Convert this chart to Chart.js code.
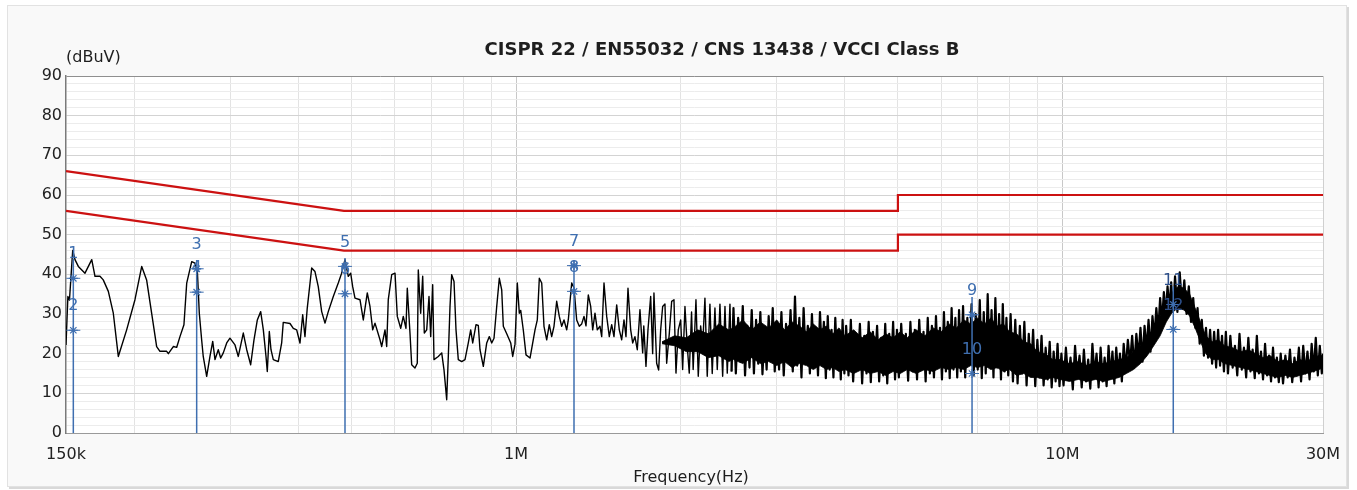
<!DOCTYPE html>
<html><head><meta charset="utf-8">
<script src="https://cdn.jsdelivr.net/npm/chart.js@4.4.1/dist/chart.umd.min.js"></script>
<style>html,body{margin:0;padding:0;background:#fff;}canvas{display:block;}</style>
</head><body>
<canvas id="c" width="1357" height="490"></canvas>
<script>
// ---------- texts ----------
const chartTitle = 'CISPR 22 / EN55032 / CNS 13438 / VCCI Class B';
const yUnitLabel = '(dBuV)';
const xAxisLabel = 'Frequency(Hz)';

// ---------- axes ----------
const xTickValues = [0.15, 1, 10, 30];          // MHz
const xTickLabels = ['150k', '1M', '10M', '30M'];
const xGridMHz = [0.15,0.2,0.3,0.4,0.5,0.6,0.7,0.8,0.9,1,2,3,4,5,6,7,8,9,10,20,30];
const yMin = 0, yMax = 90, yStep = 2, yLabelEvery = 10;

// ---------- limit lines (MHz, dBuV) ----------
const limitFreqMHz = [0.15, 0.484, 5.0, 5.0, 30];
const qpLimitDb    = [66, 56, 56, 60, 60];
const avLimitDb    = [56, 46, 46, 50, 50];

// ---------- markers ----------
const markerFreqMHz = [0.1547, 0.2602, 0.4862, 1.2765, 6.834, 15.96];
const markerQpDb    = [39.0, 41.4, 42.0, 42.2, 29.8, 32.4];   // labels 1,3,5,7,9,11
const markerAvDb    = [25.9, 35.5, 35.1, 35.7, 15.0, 26.1];   // labels 2,4,6,8,10,12
const markerTopDb   = [44.0, 43.6, 44.1, 43.6, 34.3, 37.0];

// ---------- solid core of the dense sweep (where the trace lines merge) ----------
const bandCoreFreqMHz  = [1.85, 1.95, 2.05, 2.15, 2.25, 2.35, 2.45, 2.5, 2.6, 2.7, 2.8, 2.9, 3.0, 3.1, 3.2, 3.3, 3.4, 3.5, 3.6, 3.7, 3.8, 3.9, 4.0, 4.15, 4.3, 4.45, 4.6, 4.75, 4.9, 5.05, 5.2, 5.4, 5.6, 5.8, 6.0, 6.2, 6.4, 6.6, 6.8, 7.0, 7.2, 7.4, 7.6, 7.8, 8.0, 8.25, 8.5, 8.75, 9.0, 9.3, 9.6, 9.9, 10.3, 10.7, 11.1, 11.5, 11.9, 12.3, 12.7, 13.1, 13.5, 13.9, 14.3, 14.7, 15.1, 15.5, 15.9, 16.3, 16.7, 17.1, 17.5, 17.9, 18.3, 18.8, 19.3, 19.8, 20.5, 21.2, 21.9, 22.6, 23.3, 24.0, 24.8, 25.6, 26.4, 27.2, 28.0, 28.8, 29.5, 30.0];
const bandCoreTopDb    = [23.0, 24.5, 24.0, 26.0, 25.0, 27.5, 26.0, 26.5, 28.5, 26.0, 28.0, 26.5, 28.5, 26.0, 28.0, 27.0, 25.5, 27.5, 26.0, 27.0, 25.0, 26.5, 24.5, 26.0, 24.0, 25.5, 23.5, 25.0, 24.0, 25.5, 24.0, 26.0, 24.5, 26.5, 25.5, 27.5, 26.5, 28.5, 27.5, 29.0, 27.5, 29.0, 27.0, 27.5, 25.5, 25.0, 23.0, 22.5, 20.5, 20.0, 18.5, 18.5, 17.5, 18.0, 17.0, 18.0, 17.5, 18.0, 18.5, 19.0, 20.5, 22.0, 24.0, 26.5, 29.5, 33.0, 35.5, 37.0, 36.5, 35.0, 31.5, 28.0, 24.5, 23.0, 23.5, 22.0, 21.5, 20.5, 21.0, 20.0, 19.0, 19.5, 18.0, 18.5, 17.5, 18.5, 18.0, 19.0, 19.5, 19.5];
const bandCoreBottomDb = [22.5, 22.0, 20.5, 20.5, 19.0, 19.5, 18.0, 18.5, 17.5, 19.0, 17.5, 18.0, 17.0, 18.0, 16.5, 17.5, 17.0, 16.0, 17.0, 16.0, 16.5, 15.5, 16.0, 15.0, 16.0, 15.0, 15.5, 14.5, 15.5, 15.0, 16.0, 15.0, 16.0, 15.5, 16.5, 16.0, 16.5, 16.0, 17.0, 16.5, 17.0, 16.0, 16.5, 15.5, 16.0, 14.5, 15.0, 14.0, 14.0, 13.5, 14.0, 13.5, 13.0, 13.5, 13.0, 13.5, 13.0, 13.5, 14.0, 15.0, 16.0, 17.5, 19.5, 22.0, 24.5, 28.0, 30.5, 31.5, 31.0, 29.5, 26.5, 23.0, 20.0, 18.5, 18.5, 17.5, 17.0, 16.5, 16.0, 15.5, 15.0, 14.5, 14.0, 14.5, 14.0, 14.5, 15.0, 15.5, 16.0, 16.5];

// ---------- measured trace [MHz, dBuV] ----------
const trace150kTo300k = [[0.1500,22.2],[0.1512,34.4],[0.1522,33.5],[0.1543,46.0],[0.1558,43.7],[0.1580,42.0],[0.1625,40.3],[0.1672,43.7],[0.1695,39.5],[0.1731,39.5],[0.1755,38.6],[0.1793,35.7],[0.1831,30.2],[0.1870,19.3],[0.1937,26.0],[0.2006,33.6],[0.2064,42.0],[0.2107,38.6],[0.2152,30.2],[0.2198,21.8],[0.2229,20.6],[0.2293,20.6],[0.2309,20.0],[0.2358,21.8],[0.2392,21.6],[0.2425,24.3],[0.2466,27.3],[0.2495,37.8],[0.2548,43.2],[0.2583,42.8],[0.2609,41.1],[0.2631,30.2],[0.2657,23.5],[0.2675,19.3],[0.2714,14.3],[0.2752,19.3],[0.2784,23.1],[0.2811,18.5],[0.2850,21.0],[0.2879,18.9],[0.2911,20.2],[0.2953,22.7],[0.2994,23.9]];
const trace300kTo600k = [[0.3058,22.2],[0.3101,19.3],[0.3167,25.2],[0.3213,21.0],[0.3267,17.2],[0.3313,23.5],[0.3360,28.5],[0.3408,30.6],[0.3446,26.0],[0.3485,19.3],[0.3504,15.5],[0.3534,25.6],[0.3559,21.0],[0.3594,18.5],[0.3670,18.0],[0.3723,22.7],[0.3748,27.9],[0.3856,27.6],[0.3910,26.4],[0.3966,26.0],[0.4022,22.7],[0.4068,29.8],[0.4107,24.3],[0.4147,31.5],[0.4225,41.6],[0.4284,40.7],[0.4344,36.9],[0.4407,30.6],[0.4469,27.7],[0.4531,30.6],[0.4628,34.4],[0.4726,37.8],[0.4794,40.3],[0.4862,43.7],[0.4930,39.5],[0.4980,40.3],[0.5022,36.9],[0.5071,34.0],[0.5179,33.6],[0.5252,28.5],[0.5341,35.3],[0.5402,31.9],[0.5464,26.0],[0.5517,27.7],[0.5635,23.5],[0.5675,21.8],[0.5755,26.0],[0.5796,21.8],[0.5835,33.6],[0.5920,39.9],[0.6003,40.3]];
const trace600kTo1M = [[0.6061,29.4],[0.6149,26.4],[0.6216,29.4],[0.6287,26.4],[0.6322,36.5],[0.6394,25.2],[0.6440,17.2],[0.6530,16.4],[0.6594,17.6],[0.6622,41.1],[0.6689,30.2],[0.6746,39.5],[0.6792,25.2],[0.6861,26.0],[0.6928,34.4],[0.6977,24.3],[0.7036,37.4],[0.7075,18.5],[0.7204,19.3],[0.7309,20.2],[0.7380,15.9],[0.7464,8.4],[0.7515,19.3],[0.7569,31.9],[0.7623,39.9],[0.7698,38.2],[0.7763,26.0],[0.7838,18.5],[0.7952,18.0],[0.8063,18.5],[0.8176,22.7],[0.8259,26.0],[0.8329,22.7],[0.8446,27.3],[0.8528,27.1],[0.8589,21.0],[0.8710,16.8],[0.8836,22.7],[0.8933,24.3],[0.9024,22.7],[0.9112,23.9],[0.9216,31.9],[0.9318,39.0],[0.9412,36.1],[0.9476,26.9],[0.9613,25.0],[0.9777,22.7],[0.9859,19.3],[0.9955,22.4]];
const trace1MTo2p5M = [[1.0052,37.8],[1.0137,30.2],[1.0197,30.9],[1.0310,25.9],[1.0428,19.7],[1.0605,18.9],[1.0831,26.0],[1.0936,28.5],[1.1029,39.0],[1.1141,37.8],[1.1248,26.9],[1.1377,23.5],[1.1502,27.3],[1.1619,24.3],[1.1733,26.9],[1.1867,33.2],[1.1998,29.4],[1.2120,26.9],[1.2238,28.5],[1.2378,26.0],[1.2462,28.5],[1.2642,37.8],[1.2765,36.6],[1.2911,28.5],[1.3053,26.9],[1.3186,27.5],[1.3315,29.4],[1.3427,27.0],[1.3558,34.8],[1.3696,31.9],[1.3812,26.0],[1.3946,30.2],[1.4082,26.0],[1.4243,26.9],[1.4346,24.3],[1.4486,37.8],[1.4651,29.4],[1.4813,24.3],[1.4963,27.3],[1.5108,24.3],[1.5282,32.3],[1.5450,26.0],[1.5607,23.5],[1.5759,28.5],[1.5892,24.3],[1.6027,36.5],[1.6210,26.0],[1.6347,22.7],[1.6503,24.3],[1.6667,21.0],[1.6857,31.1],[1.7050,20.2],[1.7130,27.0],[1.7289,16.8],[1.7436,26.0],[1.7635,34.4],[1.7783,20.0],[1.7881,35.3],[1.8085,17.6],[1.8239,15.9],[1.8394,26.0],[1.8549,31.9],[1.8730,32.5],[1.8865,17.6],[1.9073,25.0],[1.9267,33.2],[1.9455,33.6],[1.9620,15.1],[1.9812,26.0],[2.0013,28.5],[2.0180,16.0],[2.0377,31.9],[2.0572,22.0],[2.0749,15.1],[2.0952,30.5],[2.1094,16.0],[2.1344,33.6],[2.1552,14.3],[2.1770,27.0],[2.1955,22.0],[2.2167,34.0],[2.2384,14.3],[2.2639,32.5],[2.2859,15.0],[2.3122,31.5],[2.3349,16.0],[2.3615,32.5],[2.3886,14.3],[2.4120,31.9],[2.4355,15.1],[2.4632,32.5],[2.4800,15.5]];
const trace2p5MTo3M = [[2.500,31.5],[2.525,15.0],[2.550,29.0],[2.575,18.0],[2.600,32.0],[2.625,14.5],[2.650,27.0],[2.675,16.5],[2.700,31.0],[2.725,15.0],[2.750,28.5],[2.775,17.5],[2.800,30.5],[2.825,14.8],[2.850,26.0],[2.875,16.0],[2.900,29.5],[2.925,18.5],[2.950,31.5],[2.975,15.5],[3.000,28.0]];
const trace3MTo4M = [[3.03,16.0],[3.06,30.5],[3.09,14.5],[3.12,27.5],[3.15,19.0],[3.18,31.0],[3.21,15.5],[3.24,34.4],[3.27,17.0],[3.30,29.0],[3.33,14.0],[3.36,31.5],[3.39,18.5],[3.42,27.0],[3.45,15.0],[3.48,30.0],[3.51,16.5],[3.54,26.5],[3.57,14.5],[3.60,30.5],[3.63,19.5],[3.66,28.0],[3.69,13.8],[3.72,29.5],[3.75,16.0],[3.78,26.0],[3.81,14.0],[3.84,29.0],[3.87,17.5],[3.90,25.5],[3.93,13.5],[3.96,28.5],[3.99,15.0]];
const trace4MTo5M = [[4.02,27.0],[4.06,14.5],[4.10,28.5],[4.14,13.0],[4.18,25.0],[4.22,16.5],[4.26,27.5],[4.30,12.5],[4.34,24.5],[4.38,15.0],[4.42,28.0],[4.46,12.8],[4.50,25.5],[4.54,17.0],[4.58,27.0],[4.62,13.0],[4.66,24.0],[4.70,14.5],[4.74,27.5],[4.78,12.5],[4.82,25.0],[4.86,16.0],[4.90,28.0],[4.94,13.5],[4.98,26.0]];
const trace5MTo6p5M = [[5.02,14.0],[5.07,27.5],[5.12,16.0],[5.17,25.0],[5.22,13.2],[5.27,28.0],[5.32,15.5],[5.37,26.0],[5.42,13.5],[5.47,28.5],[5.52,17.0],[5.57,25.5],[5.62,13.0],[5.67,29.0],[5.72,15.0],[5.77,27.0],[5.82,14.0],[5.87,29.5],[5.92,16.5],[5.97,26.5],[6.02,13.5],[6.07,30.5],[6.12,15.5],[6.17,28.0],[6.22,13.8],[6.27,31.5],[6.32,16.0],[6.37,29.0],[6.42,14.0],[6.47,31.0]];
const trace6p5MTo8M = [[6.52,15.5],[6.58,32.0],[6.64,14.0],[6.70,29.0],[6.76,17.5],[6.82,32.5],[6.88,14.5],[6.94,30.0],[7.00,16.0],[7.06,33.5],[7.12,13.8],[7.18,30.5],[7.24,15.0],[7.30,35.0],[7.36,17.0],[7.42,31.0],[7.48,14.0],[7.54,34.0],[7.60,16.5],[7.66,30.0],[7.72,13.5],[7.78,32.5],[7.84,15.5],[7.90,29.0],[7.96,14.5]];
const trace8MTo10M = [[8.04,30.0],[8.12,13.0],[8.20,28.5],[8.28,12.5],[8.36,27.0],[8.44,15.0],[8.52,28.0],[8.60,12.0],[8.68,25.0],[8.76,14.5],[8.84,26.0],[8.92,11.8],[9.00,23.5],[9.08,14.0],[9.16,24.5],[9.24,12.0],[9.32,21.5],[9.40,13.5],[9.48,23.0],[9.56,11.5],[9.64,20.5],[9.72,13.0],[9.80,22.5],[9.88,11.8],[9.96,20.0]];
const trace10MTo13M = [[10.05,12.0],[10.15,21.5],[10.25,13.5],[10.35,19.0],[10.45,11.0],[10.55,22.0],[10.65,14.0],[10.75,19.5],[10.85,11.5],[10.95,21.0],[11.05,13.0],[11.15,18.5],[11.25,11.2],[11.35,22.5],[11.45,14.5],[11.55,20.0],[11.65,11.5],[11.75,21.5],[11.85,13.0],[11.95,19.0],[12.05,11.8],[12.15,22.0],[12.25,14.0],[12.35,20.5],[12.45,12.5],[12.55,21.5],[12.65,14.5],[12.75,20.0],[12.85,13.0],[12.95,22.5]];
const trace13MTo16M = [[13.06,16.0],[13.18,23.5],[13.30,17.5],[13.42,24.5],[13.54,16.5],[13.66,25.0],[13.78,19.0],[13.90,26.5],[14.02,18.0],[14.14,27.0],[14.26,21.0],[14.38,28.5],[14.50,20.5],[14.62,29.5],[14.74,24.0],[14.86,31.5],[14.98,25.5],[15.10,34.0],[15.22,28.0],[15.34,35.5],[15.46,29.5],[15.58,37.0],[15.70,31.0],[15.82,38.0],[15.94,30.5]];
const trace16MTo20M = [[16.08,39.5],[16.24,30.5],[16.40,40.5],[16.56,31.5],[16.72,38.5],[16.88,30.0],[17.04,37.0],[17.20,28.0],[17.36,34.0],[17.52,26.5],[17.68,31.5],[17.84,22.5],[18.00,28.5],[18.16,19.5],[18.32,26.5],[18.48,19.0],[18.64,26.0],[18.80,17.5],[18.96,25.5],[19.12,16.5],[19.28,26.0],[19.44,17.0],[19.60,24.5],[19.76,15.5],[19.92,25.5]];
const trace20MTo25M = [[20.1,15.0],[20.3,24.5],[20.5,16.5],[20.7,22.0],[20.9,14.5],[21.1,25.0],[21.3,16.0],[21.5,21.5],[21.7,14.0],[21.9,24.0],[22.1,15.5],[22.3,21.0],[22.5,13.8],[22.7,24.5],[22.9,15.0],[23.1,20.5],[23.3,13.5],[23.5,22.5],[23.7,14.5],[23.9,19.5],[24.1,13.0],[24.3,21.5],[24.5,14.0],[24.7,19.0],[24.9,12.8]];
const trace25MTo30M = [[25.10,20.0],[25.35,12.5],[25.60,19.5],[25.85,14.0],[26.10,21.0],[26.35,12.8],[26.60,19.0],[26.85,14.5],[27.10,21.5],[27.35,13.0],[27.60,22.0],[27.85,15.0],[28.10,20.5],[28.35,13.5],[28.60,22.5],[28.85,15.5],[29.10,24.0],[29.35,14.5],[29.60,22.0],[29.85,15.0],[30.00,20.0]];

// ---------- build ----------
const sparseTrace = [].concat(trace150kTo300k, trace300kTo600k, trace600kTo1M, trace1MTo2p5M);
const denseTrace = [].concat(trace2p5MTo3M, trace3MTo4M, trace4MTo5M, trace5MTo6p5M,
  trace6p5MTo8M, trace8MTo10M, trace10MTo13M, trace13MTo16M, trace16MTo20M,
  trace20MTo25M, trace25MTo30M);
const sparsePoints = sparseTrace.map(p => ({x: p[0], y: p[1]}));
const densePoints = [sparseTrace[sparseTrace.length - 1]].concat(denseTrace).map(p => ({x: p[0], y: p[1]}));
const coreTopPoints = bandCoreFreqMHz.map((f, i) => ({x: f, y: bandCoreTopDb[i]}));
const coreBottomPoints = bandCoreFreqMHz.map((f, i) => ({x: f, y: bandCoreBottomDb[i]}));
const qpPoints = limitFreqMHz.map((f, i) => ({x: f, y: qpLimitDb[i]}));
const avPoints = limitFreqMHz.map((f, i) => ({x: f, y: avLimitDb[i]}));
const markerLinePoints = [];
markerFreqMHz.forEach((f, i) => {
  markerLinePoints.push({x: f, y: 0}, {x: f, y: markerTopDb[i]}, {x: f, y: null});
});
const starPoints = markerFreqMHz.map((f, i) => ({x: f, y: markerQpDb[i]}))
  .concat(markerFreqMHz.map((f, i) => ({x: f, y: markerAvDb[i]})));

const MARK_BLUE = '#3f6fb0';
const FONT = 'DejaVu Sans';
Chart.defaults.font.family = FONT;

const framePlugin = {
  id: 'frame',
  beforeDraw(chart) {
    const {ctx, chartArea: a} = chart;
    ctx.save();
    ctx.fillStyle = '#ffffff';
    ctx.fillRect(0, 0, chart.width, chart.height);
    ctx.fillStyle = '#d9d9d9';
    ctx.fillRect(9, 7, 1340, 482);
    ctx.fillStyle = '#f9f9f9';
    ctx.fillRect(7, 5, 1340, 482);
    ctx.strokeStyle = '#e2e2e2';
    ctx.lineWidth = 1;
    ctx.strokeRect(7.5, 5.5, 1339, 481);
    ctx.fillStyle = '#ffffff';
    ctx.fillRect(a.left, a.top, a.right - a.left, a.bottom - a.top);
    ctx.restore();
  },
  afterDatasetsDraw(chart) {
    const {ctx} = chart;
    const xs = chart.scales.x, ys = chart.scales.y;
    ctx.save();
    ctx.font = '16px "' + FONT + '"';
    ctx.textAlign = 'center';
    ctx.textBaseline = 'middle';
    markerFreqMHz.forEach((f, i) => {
      const px = xs.getPixelForValue(f);
      ctx.fillStyle = i === 5 ? '#2d4f8a' : MARK_BLUE;
      ctx.fillText(String(2 * i + 1), px, ys.getPixelForValue(markerQpDb[i]) - 24);
      ctx.fillText(String(2 * i + 2), px, ys.getPixelForValue(markerAvDb[i]) - 24);
    });
    ctx.restore();
  },
  afterDraw(chart) {
    const {ctx, chartArea: a} = chart;
    ctx.save();
    ctx.fillStyle = '#1e1e1e';
    ctx.textBaseline = 'middle';
    ctx.textAlign = 'center';
    ctx.font = 'bold 18px "' + FONT + '"';
    ctx.fillText(chartTitle, 722, 50);
    ctx.font = '16px "' + FONT + '"';
    ctx.textAlign = 'left';
    ctx.fillText(yUnitLabel, a.left, 58);
    ctx.textAlign = 'center';
    ctx.fillText(xAxisLabel, 691, 478);
    ctx.restore();
  }
};

new Chart(document.getElementById('c'), {
  type: 'line',
  data: {
    datasets: [
      { label: 'markerLines', data: markerLinePoints, borderColor: MARK_BLUE, borderWidth: 1.5,
        pointRadius: 0, spanGaps: false, order: 0 },
      { label: 'markerStars', data: starPoints, showLine: false, pointStyle: 'star',
        pointRadius: 4.5, pointBorderColor: MARK_BLUE, pointBackgroundColor: MARK_BLUE,
        pointBorderWidth: 1.2, order: 0 },
      { label: 'markerDash', data: starPoints, showLine: false, pointStyle: 'line',
        pointRadius: 7, pointBorderColor: MARK_BLUE, pointBorderWidth: 1, order: 0 },
      { label: 'trace', data: sparsePoints, borderColor: '#000000', borderWidth: 1.4,
        borderJoinStyle: 'round', pointRadius: 0, order: 1 },
      { label: 'traceDense', data: densePoints, borderColor: '#000000', borderWidth: 2.2,
        borderJoinStyle: 'round', pointRadius: 0, order: 1 },
      { label: 'coreTop', data: coreTopPoints, borderColor: '#000000', borderWidth: 0.8,
        backgroundColor: '#000000', fill: '+1', pointRadius: 0, order: 1 },
      { label: 'coreBottom', data: coreBottomPoints, borderColor: '#000000', borderWidth: 0.8,
        pointRadius: 0, fill: false, order: 1 },
      { label: 'QP limit', data: qpPoints, borderColor: '#cc1111', borderWidth: 2.2,
        pointRadius: 0, order: 2 },
      { label: 'AV limit', data: avPoints, borderColor: '#cc1111', borderWidth: 2.2,
        pointRadius: 0, order: 2 }
    ]
  },
  options: {
    responsive: false,
    animation: false,
    devicePixelRatio: 1,
    layout: { padding: { top: 76, right: 34, bottom: 0, left: 0 } },
    plugins: { legend: { display: false }, tooltip: { enabled: false }, title: { display: false } },
    elements: { line: { tension: 0 } },
    scales: {
      x: {
        type: 'logarithmic', min: 0.15, max: 30,
        afterBuildTicks: s => { s.ticks = xGridMHz.map(v => ({ value: v })); },
        afterFit: s => { s.height = 57; },
        ticks: {
          autoSkip: false, maxRotation: 0, padding: 12, color: '#222',
          font: { size: 16, family: FONT },
          callback: v => {
            const i = xTickValues.findIndex(t => Math.abs(t - v) < 1e-9);
            return i >= 0 ? xTickLabels[i] : '';
          }
        },
        grid: {
          drawTicks: false,
          color: c => {
            const v = c.tick ? c.tick.value : 0;
            if (Math.abs(v - 0.15) < 1e-9) return 'rgba(0,0,0,0)';
            if (v === 1 || v === 10) return '#c8c8c8';
            if (v === 30) return '#d0d0d0';
            return '#e3e3e3';
          }
        },
        border: { display: true, color: '#9a9a9a', width: 1 }
      },
      y: {
        type: 'linear', min: yMin, max: yMax,
        afterFit: s => { s.width = 66; },
        ticks: {
          stepSize: yStep, autoSkip: false, padding: 4, color: '#222',
          font: { size: 16, family: FONT },
          callback: v => (v % yLabelEvery === 0 ? String(v) : '')
        },
        grid: {
          drawTicks: false,
          color: c => {
            const v = c.tick ? c.tick.value : 0;
            if (v === yMax) return '#8f8f8f';
            if (v === 0) return 'rgba(0,0,0,0)';
            return v % yLabelEvery === 0 ? '#d3d3d3' : '#ececec';
          }
        },
        border: { display: true, color: '#7a7a7a', width: 1.5 }
      }
    }
  },
  plugins: [framePlugin]
});
</script>
</body></html>
